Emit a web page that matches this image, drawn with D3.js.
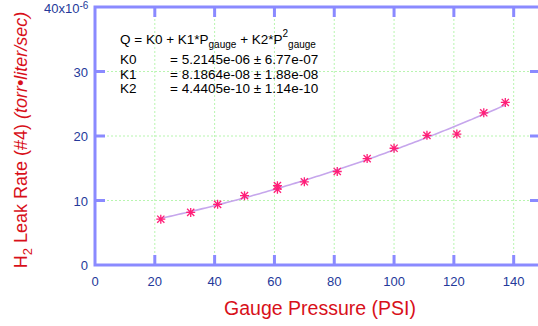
<!DOCTYPE html>
<html>
<head>
<meta charset="utf-8">
<script src="https://cdn.jsdelivr.net/npm/d3@7"></script>
<style>
  body { margin: 0; background: #fff; }
  svg { display: block; font-family: "Liberation Sans", Arial, sans-serif; }
</style>
</head>
<body>
<svg width="538" height="326"></svg>
<script>
// data (leak rate in units of 1e-6 torr*liter/sec)
const pressure = [22, 32, 41, 50, 61, 61, 70, 81, 91, 100, 111, 121, 130, 137.2];
const leakRate = [7.1, 8.15, 9.4, 10.75, 12.3, 11.75, 12.9, 14.5, 16.5, 18.1, 20.1, 20.3, 23.6, 25.2];
const fitCoef = [5.2145, 0.081864, 0.00044405]; // K0, K1, K2 (x1e-6)
const fitRange = [22, 137.2];
const xTicks = [0, 20, 40, 60, 80, 100, 120, 140];
const yTicks = [0, 10, 20, 30];
const fitLines = [
  ["K0", "= 5.2145e-06 \u00b1 6.77e-07"],
  ["K1", "= 8.1864e-08 \u00b1 1.88e-08"],
  ["K2", "= 4.4405e-10 \u00b1 1.14e-10"]
];

const svg = d3.select("svg");
const pL = 95, pR = 540, pT = 7, pB = 265;

const x = d3.scaleLinear().domain([0, 148.8]).range([pL, pR]);
const y = d3.scaleLinear().domain([0, 40]).range([pB, pT]);

const axisColor = "#8a8aff";
const tickColor = "#24399a";
const red = "#d8101a";

// grid
const grid = svg.append("g").attr("stroke", "#b8f5b0").attr("stroke-width", 1).attr("stroke-dasharray", "2,2");
xTicks.filter(d => d > 0).forEach(d => {
  grid.append("line").attr("x1", x(d)).attr("x2", x(d)).attr("y1", pT).attr("y2", pB);
});
yTicks.filter(d => d > 0).forEach(d => {
  grid.append("line").attr("x1", pL).attr("x2", pR).attr("y1", y(d)).attr("y2", y(d));
});

// frame and ticks
const frame = svg.append("g").attr("stroke", axisColor).attr("stroke-width", 3);
frame.append("rect").attr("x", pL).attr("y", pT).attr("width", pR - pL).attr("height", pB - pT).attr("fill", "none");
xTicks.filter(d => d > 0).forEach(d => {
  frame.append("line").attr("x1", x(d)).attr("x2", x(d)).attr("y1", pB).attr("y2", pB - 10);
  frame.append("line").attr("x1", x(d)).attr("x2", x(d)).attr("y1", pT).attr("y2", pT + 10);
});
yTicks.filter(d => d > 0).forEach(d => {
  frame.append("line").attr("x1", pL).attr("x2", pL + 10).attr("y1", y(d)).attr("y2", y(d));
  frame.append("line").attr("x1", pR).attr("x2", pR - 10).attr("y1", y(d)).attr("y2", y(d));
});

// tick labels
svg.append("g").selectAll("text").data(xTicks).join("text")
  .attr("x", d => x(d)).attr("y", pB + 21)
  .attr("text-anchor", "middle").attr("font-size", 13).attr("fill", tickColor)
  .text(d => d);
svg.append("g").selectAll("text").data(yTicks).join("text")
  .attr("x", pL - 7).attr("y", d => y(d) + 5)
  .attr("text-anchor", "end").attr("font-size", 13).attr("fill", tickColor)
  .text(d => d);
const top40 = svg.append("text").attr("x", pL - 51).attr("y", pT + 6)
  .attr("font-size", 13).attr("fill", tickColor);
top40.append("tspan").text("40x10");
top40.append("tspan").attr("dy", -4).attr("font-size", 10).text("-6");

// fit curve
const fitPts = d3.range(fitRange[0], fitRange[1] + 0.01, 1).concat([fitRange[1]])
  .map(p => [p, fitCoef[0] + fitCoef[1] * p + fitCoef[2] * p * p]);
svg.append("path").datum(fitPts)
  .attr("d", d3.line().x(d => x(d[0])).y(d => y(d[1])))
  .attr("fill", "none").attr("stroke", "#c6a6ec").attr("stroke-width", 1.6);

// markers
const mk = svg.append("g").attr("stroke", "#ff1f78").attr("stroke-width", 1.3);
pressure.forEach((p, i) => {
  const cx = x(p), cy = y(leakRate[i]), r = 4.5, q = 3.6;
  mk.append("path")
    .attr("d", `M${cx - r},${cy}H${cx + r}M${cx},${cy - r}V${cy + r}` +
      `M${cx - q},${cy - q}L${cx + q},${cy + q}M${cx - q},${cy + q}L${cx + q},${cy - q}`);
});

// annotation
const note = svg.append("g").attr("font-size", 13.5).attr("fill", "#000");
const eq = note.append("text").attr("x", 120).attr("y", 44);
eq.append("tspan").text("Q = K0 + K1*P");
eq.append("tspan").attr("dy", 4).attr("font-size", 10).text("gauge");
eq.append("tspan").attr("dy", -4).text(" + K2*P");
eq.append("tspan").attr("dy", -7).attr("font-size", 10).text("2");
eq.append("tspan").attr("dy", 11).attr("font-size", 10).text("gauge");
fitLines.forEach((r, i) => {
  note.append("text").attr("x", 120).attr("y", 64 + i * 14.5).text(r[0]);
  note.append("text").attr("x", 170).attr("y", 64 + i * 14.5).text(r[1]);
});

// axis titles
svg.append("text").attr("x", 320).attr("y", 315)
  .attr("text-anchor", "middle").attr("font-size", 19.5).attr("fill", red)
  .text("Gauge Pressure (PSI)");
const yt = svg.append("text").attr("transform", "translate(27,140) rotate(-90)")
  .attr("text-anchor", "middle").attr("font-size", 18).attr("fill", red);
yt.append("tspan").text("H");
yt.append("tspan").attr("dy", 5).attr("font-size", 13).text("2");
yt.append("tspan").attr("dy", -5).text(" Leak Rate (#4) ");
yt.append("tspan").attr("font-style", "italic").text("(torr\u2022liter/sec)");
</script>
</body>
</html>
